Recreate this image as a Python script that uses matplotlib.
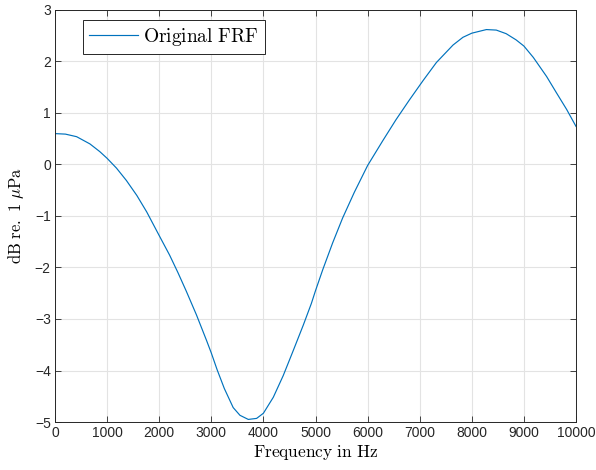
import matplotlib
matplotlib.use("Agg")
import matplotlib.pyplot as plt

freq_hz = [0, 200, 415, 670, 860, 1000, 1180, 1370, 1570, 1760, 2000, 2200,
           2360, 2520, 2715, 2910, 3000, 3110, 3250, 3420, 3550, 3710, 3870,
           4000, 4190, 4380, 4570, 4765, 4920, 5000, 5140, 5330, 5520, 5745,
           6000, 6290, 6545, 6800, 7065, 7320, 7640, 7830, 8000, 8280, 8470,
           8660, 8850, 9000, 9180, 9435, 9620, 9820, 10000]
level_db = [0.60, 0.59, 0.54, 0.40, 0.25, 0.12, -0.07, -0.31, -0.60, -0.92,
            -1.38, -1.76, -2.10, -2.46, -2.92, -3.42, -3.66, -3.98, -4.35,
            -4.72, -4.87, -4.95, -4.93, -4.83, -4.52, -4.10, -3.62, -3.12,
            -2.70, -2.45, -2.04, -1.52, -1.04, -0.54, -0.02, 0.46, 0.87, 1.25,
            1.63, 1.98, 2.32, 2.47, 2.55, 2.62, 2.61, 2.54, 2.42, 2.30, 2.08,
            1.71, 1.40, 1.07, 0.74]

x_ticks = list(range(0, 10001, 1000))
y_ticks = list(range(-5, 4))

plt.rcParams['mathtext.fontset'] = 'cm'
plt.rcParams['font.family'] = ['Liberation Sans', 'DejaVu Sans']

fig = plt.figure(figsize=(5.96, 4.70), dpi=100)
ax = fig.add_axes([55/596, 48/470, 521/596, 412/470])

ax.plot(freq_hz, level_db, color='#0072BD', lw=0.85, label=r'$\mathrm{Original\ FRF}$')

ax.set_xlim(0, 10000)
ax.set_ylim(-5, 3)
ax.set_xticks(x_ticks)
ax.set_yticks(y_ticks)
ax.grid(True, color='#e3e3e3', lw=0.8)
ax.set_axisbelow(True)
ax.tick_params(direction='in', top=True, right=True, length=4, width=0.6,
               colors='#262626', labelsize=10, pad=3)
for s in ax.spines.values():
    s.set_color('#262626')
    s.set_linewidth(0.7)

ax.set_xlabel(r'$\mathrm{Frequency\ in\ Hz}$', fontsize=12.5, labelpad=2)
ax.set_ylabel(r'$\mathrm{dB\ re.\ 1\ }\mu\mathrm{Pa}$', fontsize=12, labelpad=6)

leg = ax.legend(loc='upper left', bbox_to_anchor=(0.054, 0.976), borderaxespad=0,
                fontsize=14, fancybox=False, framealpha=1, edgecolor='#262626',
                handlelength=2.5, borderpad=0.3, handletextpad=0.3)
leg.get_frame().set_linewidth(0.7)

fig.savefig('out.png', dpi=100)
